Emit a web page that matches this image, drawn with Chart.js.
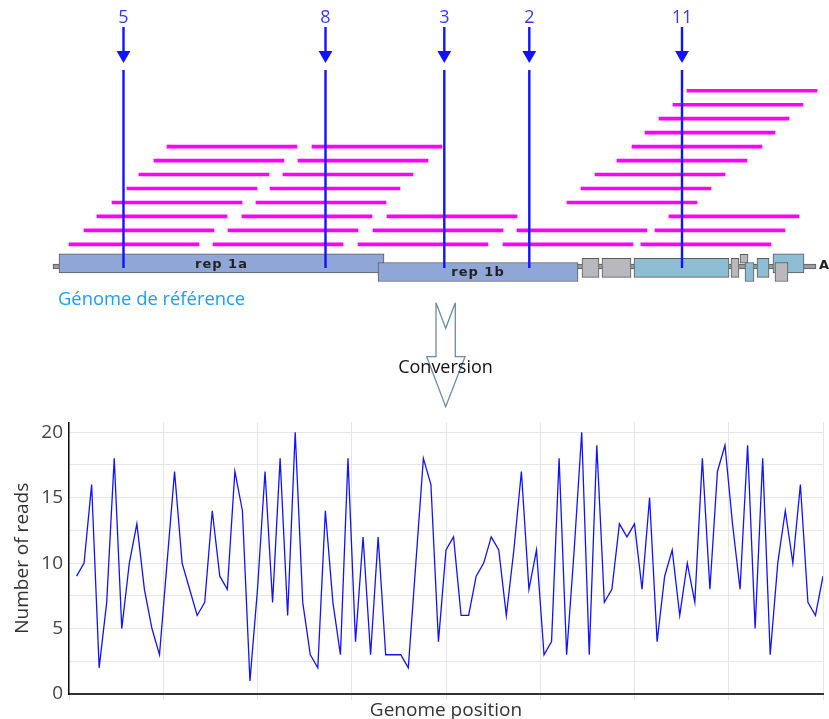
<!DOCTYPE html>
<html>
<head>
<meta charset="utf-8">
<script src="https://cdn.jsdelivr.net/npm/chart.js@4.4.1/dist/chart.umd.min.js"></script>
<style>
  html, body { margin: 0; padding: 0; background: #fff; }
  #page { position: relative; width: 829px; height: 719px; overflow: hidden; font-family: "Open Sans", sans-serif; }
  #mapChart { position: absolute; left: 0; top: 0; }
  #coverageChart { position: absolute; left: 0; top: 405px; }
  #refLabel { position: absolute; left: 58px; top: 285px; color: #1a9cff; font-size: 18.4px; white-space: nowrap; }
  #tailLabel { position: absolute; left: 819px; top: 257px; font: bold 13px "DejaVu Sans", sans-serif; color: #222; }
  #conv { position: absolute; left: 0; top: 0; }
</style>
</head>
<body>
<div id="page">
  <canvas id="mapChart" width="829" height="290"></canvas>
  <div id="refLabel">Génome de référence</div>
  <div id="tailLabel">A</div>
  <svg id="conv" width="829" height="420">
    <polygon points="436,302.7 445.7,328.3 455.3,302.7 455.3,356.7 465,356.7 445.7,406.7 426.7,356.7 436,356.7"
             fill="none" stroke="#6a8bb0" stroke-width="1.3"/>
    <text x="445.5" y="373" text-anchor="middle" font-family="Open Sans" font-size="18" fill="#111">Conversion</text>
  </svg>
  <canvas id="coverageChart" width="829" height="317"></canvas>
</div>
<script>
// ---- coverage profile (number of reads at positions 1..100) ----
const readCounts = [9, 10, 16, 2, 7, 18, 5, 10, 13, 8,
  5, 3, 10, 17, 10, 8, 6, 7, 14, 9,
  8, 17, 14, 1, 8, 17, 7, 18, 6, 20,
  7, 3, 2, 14, 7, 3, 18, 4, 12, 3,
  12, 3, 3, 3, 2, 10, 18, 16, 4, 11,
  12, 6, 6, 9, 10, 12, 11, 6, 11, 17,
  8, 11, 3, 4, 18, 3, 11, 20, 3, 19,
  7, 8, 13, 12, 13, 8, 15, 4, 9, 11,
  6, 10, 7, 18, 8, 17, 19, 13, 8, 19,
  5, 18, 3, 10, 14, 10, 16, 7, 6, 9];

// ---- reads mapped on the reference (start positions, one list per row) ----
const readLength = 130;
const readStarts = [
  [10, 154, 299, 444, 582],
  [25, 169, 314, 458, 596],
  [38, 183, 328, 610],
  [53, 197, 508],
  [68, 211, 522],
  [80, 224, 536],
  [95, 239, 558],
  [108, 253, 573],
  [586],
  [600],
  [614],
  [628]
];

// ---- reference genome features ----
const genomeSpan = [-6, 757];
const geneNames = ['rep 1a', 'rep 1b', '', '', '', '', '', '', '', '', ''];
const geneStart = [0, 319, 523, 543, 575, 672, 681, 686, 698, 714, 716];
const geneEnd   = [325, 519, 540, 572, 670, 680, 689, 695, 710, 745, 729];
const geneTrack = ['upper', 'lower', 'mid', 'mid', 'mid', 'mid', 'raised', 'lower', 'mid', 'upper', 'lower'];
const geneKind  = ['rep', 'rep', 'grey', 'grey', 'blue', 'grey', 'grey', 'blue', 'blue', 'blue', 'grey'];

// ---- sampled positions and their read counts ----
const markerPositions = [64.5, 266.5, 385.3, 470.3, 623];
const markerCounts = [5, 8, 3, 2, 11];

// layout of the map (in row units of the y scale)
const trackY = {upper: -1.36, mid: -1.68, lower: -1.98, raised: -1.03, spine: -1.59};
const trackSize = {upper: 19, mid: 19, lower: 19, raised: 9};
const kindColor = {rep: '#8fa6d6', grey: '#b9b9bd', blue: '#8dbed3'};
const LEVEL = {count: 16.21, shaftTop: 15.57, headBase: 13.85, head: 13.56, lineTop: 12.49, lineBottom: -1.70};
const MAP_Y = {min: -3.27, max: 17.5};
const BLUE = '#1212ff';

const geneDatasets = ['upper', 'raised', 'mid', 'lower'].map((track, k) => {
  const idx = geneTrack.map((t, i) => t === track ? i : -1).filter(i => i >= 0);
  return {
    type: 'bar',
    indexAxis: 'y',
    stack: 'map',
    order: 19 - k,
    data: idx.map(i => ({x: [geneStart[i], geneEnd[i]], y: trackY[track]})),
    geneNames: idx.map(i => geneNames[i]),
    backgroundColor: idx.map(i => kindColor[geneKind[i]]),
    borderColor: '#5a5a5a',
    borderWidth: 1,
    borderSkipped: false,
    barThickness: trackSize[track]
  };
});

const mapLabels = {
  id: 'mapLabels',
  afterDatasetsDraw(chart) {
    const {ctx, scales: {x, y2}} = chart;
    ctx.save();
    ctx.textAlign = 'center';
    ctx.textBaseline = 'middle';
    ctx.fillStyle = '#3838ff';
    ctx.font = '18px "Open Sans"';
    markerPositions.forEach((p, i) => {
      ctx.fillText(String(markerCounts[i]), x.getPixelForValue(p), y2.getPixelForValue(LEVEL.count));
    });
    ctx.font = 'bold 13px "DejaVu Sans"';
    ctx.fillStyle = '#222';
    ctx.letterSpacing = '1px';
    chart.data.datasets.forEach((ds, di) => {
      if (!ds.geneNames) return;
      chart.getDatasetMeta(di).data.forEach((bar, j) => {
        if (ds.geneNames[j]) ctx.fillText(ds.geneNames[j], (bar.x + bar.base) / 2, bar.y + 1);
      });
    });
    ctx.restore();
  }
};

new Chart(document.getElementById('mapChart'), {
  type: 'bar',
  data: {
    datasets: [
      {
        type: 'bar', indexAxis: 'y', stack: 'map', order: 20,
        data: [{x: genomeSpan, y: trackY.spine}],
        backgroundColor: '#9a9a9a', borderColor: '#5a5a5a', borderWidth: 1,
        borderSkipped: false, barThickness: 5
      },
      ...geneDatasets,
      {
        type: 'bar', indexAxis: 'y', stack: 'map', order: 15,
        data: readStarts.flatMap((row, r) => row.map(s => ({x: [s, s + readLength], y: r}))),
        backgroundColor: '#ff00ff', borderWidth: 0, barThickness: 3
      },
      {
        type: 'line', yAxisID: 'y2', order: 2,
        data: markerPositions.flatMap(p => [
          {x: p, y: LEVEL.shaftTop}, {x: p, y: LEVEL.headBase}, {x: p, y: null},
          {x: p, y: LEVEL.lineTop}, {x: p, y: LEVEL.lineBottom}, {x: p, y: null}
        ]),
        borderColor: BLUE, borderWidth: 2.4, pointRadius: 0, spanGaps: false
      },
      {
        type: 'line', yAxisID: 'y2', order: 1, showLine: false,
        data: markerPositions.map(p => ({x: p, y: LEVEL.head})),
        pointStyle: 'triangle', pointRotation: 180, pointRadius: 8,
        pointBackgroundColor: BLUE, pointBorderWidth: 0
      }
    ]
  },
  options: {
    responsive: false,
    animation: false,
    events: [],
    layout: {padding: 0, autoPadding: false},
    plugins: {legend: {display: false}, tooltip: {enabled: false}},
    scales: {
      x: {type: 'linear', display: false, min: -59, max: 770, offset: false, stacked: false},
      y: {type: 'linear', display: false, min: MAP_Y.min, max: MAP_Y.max, offset: false, stacked: true},
      y2: {type: 'linear', display: false, min: MAP_Y.min, max: MAP_Y.max, offset: false}
    }
  },
  plugins: [mapLabels]
});

const axisFont = {family: 'Open Sans', size: 19};
const gridGrey = '#e6e6e6';

new Chart(document.getElementById('coverageChart'), {
  type: 'line',
  data: {
    datasets: [{
      data: readCounts.map((v, i) => ({x: i + 1, y: v})),
      borderColor: BLUE,
      borderWidth: 1.3,
      pointRadius: 0,
      tension: 0
    }]
  },
  options: {
    responsive: false,
    animation: false,
    events: [],
    layout: {padding: {top: 13, right: 6, left: 0, bottom: 0}, autoPadding: false},
    plugins: {legend: {display: false}, tooltip: {enabled: false}},
    scales: {
      x: {
        type: 'linear', min: 0, max: 100,
        ticks: {display: false, stepSize: 12.5},
        grid: {color: gridGrey, tickColor: gridGrey, tickLength: 6},
        border: {color: '#333', width: 2},
        title: {display: true, text: 'Genome position', color: '#333', font: axisFont, padding: 0},
        afterFit(scale) { scale.height = 28; }
      },
      y: {
        min: 0, max: 20.75,
        ticks: {
          stepSize: 2.5, includeBounds: false, padding: 6, color: '#444', font: axisFont,
          callback: v => (v % 5 === 0 ? v : '')
        },
        grid: {color: ctx => (ctx.tick && ctx.tick.value > 20 ? 'rgba(0,0,0,0)' : gridGrey), drawTicks: false},
        border: {color: '#111', width: 1.5},
        title: {display: true, text: 'Number of reads', color: '#333', font: axisFont, padding: {top: 11, bottom: 0}},
        afterFit(scale) { scale.width = 69; }
      }
    }
  }
});
</script>
</body>
</html>
